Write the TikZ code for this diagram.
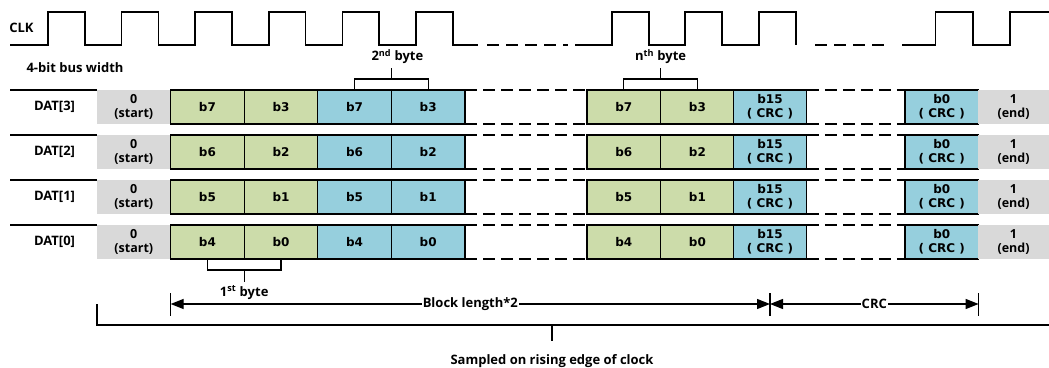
\documentclass[tikz,border=0pt]{standalone}
\usepackage{fontspec}
\setmainfont{Open Sans}
\newfontfamily\bitfont{DejaVu Sans}
\usetikzlibrary{arrows.meta, positioning, calc}

\definecolor{bitgreen}{HTML}{CCDCAA}
\definecolor{bitblue}{HTML}{96CFDD}
\definecolor{bitgray}{HTML}{D9D9D9}

\tikzset{
  bitbox/.style={draw=black, line width=1.3pt, minimum width=73.6pt, minimum height=34pt,
    inner sep=0pt, outer sep=0pt, anchor=north west, align=center,
    font=\bitfont\bfseries\fontsize{12}{14}\selectfont},
  greenbit/.style={bitbox, fill=bitgreen},
  bluebit/.style={bitbox, fill=bitblue},
  graybit/.style={bitbox, draw=none, fill=bitgray, font=\bfseries\fontsize{12.5}{14}\selectfont},
  lbl/.style={font=\bfseries\fontsize{13}{15}\selectfont},
  wire/.style={line width=1.2pt},
  gapline/.style={wire, dash pattern=on 12pt off 6pt},
  clk/.style={line width=1.5pt},
  span/.style={wire, {Triangle[length=13pt,width=10pt]}-{Triangle[length=13pt,width=10pt]}},
}

\begin{document}
\begin{tikzpicture}[x=1pt,y=-1pt]
  \useasboundingbox (0,0) rectangle (1049,367);

  % clock
  \node[lbl] (clk) at (21.5,28) {CLK};
  \draw[clk] (10,45)
    \foreach \x in {48,121.6,195.2,268.8,342.4,416} { -- (\x,45) -- (\x,12) -- (\x+36.8,12) -- (\x+36.8,45) }
    -- (478,45);
  \draw[clk, dash pattern=on 12pt off 7pt] (487,45) -- (568,45);
  \draw[clk] (575,45)
    \foreach \x in {612,685,759} { -- (\x,45) -- (\x,12) -- (\x+36.8,12) -- (\x+36.8,45) };
  \draw[clk, dash pattern=on 12pt off 7pt] (815,45) -- (890,45);
  \draw[clk] (902,45) -- (935.5,45) -- (935.5,12) -- (973,12) -- (973,45)
    -- (1010,45) -- (1010,12) -- (1049,12);

  \node[lbl] (width) at (75,68) {4-bit bus width};

  % data lines
  \foreach \r/\y in {3/90,2/135,1/180,0/225} {
    \pgfmathtruncatemacro\hi{\r+4}
    \node[lbl] (dat\r) at (54.5,\y+17) {DAT[\r]};
    \node[graybit] (s\r) at (97,\y) {0\\(start)};
    \node[greenbit] (a\r) at (170.6,\y) {b\hi};
    \node[greenbit] (b\r) at (244.2,\y) {b\r};
    \node[bluebit] (c\r) at (317.8,\y) {b\hi};
    \node[bluebit] (d\r) at (391.4,\y) {b\r};
    \node[greenbit] (e\r) at (587,\y) {b\hi};
    \node[greenbit] (f\r) at (660.6,\y) {b\r};
    \node[bluebit] (g\r) at (733.2,\y) {b15\\( CRC )};
    \node[bluebit] (h\r) at (905,\y) {b0\\( CRC )};
    \node[graybit, minimum width=71pt] (k\r) at (978,\y) {1\\(end)};
    \draw[wire] (10,\y) -- (s\r.north west);
    \draw[gapline] (d\r.north east) -- (e\r.north west);
    \draw[gapline] (d\r.south east) -- (e\r.south west);
    \draw[gapline] (g\r.north east) -- (h\r.north west);
    \draw[gapline] (g\r.south east) -- (h\r.south west);
  }

  % byte brackets
  \draw[wire] (c3.north) -- ++(0,-11) -| (d3.north);
  \draw[wire] ($(c3.north)!0.5!(d3.north)+(0,-11)$) -- ++(0,-11)
    node[lbl, above, xshift=6pt] (byte2) {2\textsuperscript{nd} byte};
  \draw[wire] (e3.north) -- ++(0,-11) -| (f3.north);
  \draw[wire] ($(e3.north)!0.5!(f3.north)+(0,-11)$) -- ++(0,-11)
    node[lbl, above] (byten) {n\textsuperscript{th} byte};
  \draw[wire] (a0.south) -- ++(0,11) -| (b0.south);
  \draw[wire] ($(a0.south)!0.5!(b0.south)+(0,11)$) -- ++(0,12)
    node[lbl, below] (byte1) {1\textsuperscript{st} byte};

  % lengths
  \coordinate (ay) at (0,304);
  \coordinate (p1) at (a0.west |- ay);
  \coordinate (p2) at (g0.center |- ay);
  \coordinate (p3) at (h0.east |- ay);
  \foreach \p in {p1,p2,p3}
    \draw[wire] (\p) ++(0,-11) -- ++(0,23);
  \draw[span] (p1) -- node[lbl, fill=white, inner sep=1pt] (blen) {Block length*2} (p2);
  \draw[span] (p2) -- node[lbl, fill=white, inner sep=1pt] (crc) {CRC} (p3);

  % sampling bracket
  \coordinate (by) at (0,325);
  \coordinate (bend) at (1049,325);
  \coordinate (stem) at (552,325);
  \draw[wire] (s0.west |- ay) -- (s0.west |- by) -- (bend);
  \draw[wire] (stem) -- ++(0,16)
    node[lbl, below=10pt] (samp) {Sampled on rising edge of clock};
\end{tikzpicture}
\end{document}
